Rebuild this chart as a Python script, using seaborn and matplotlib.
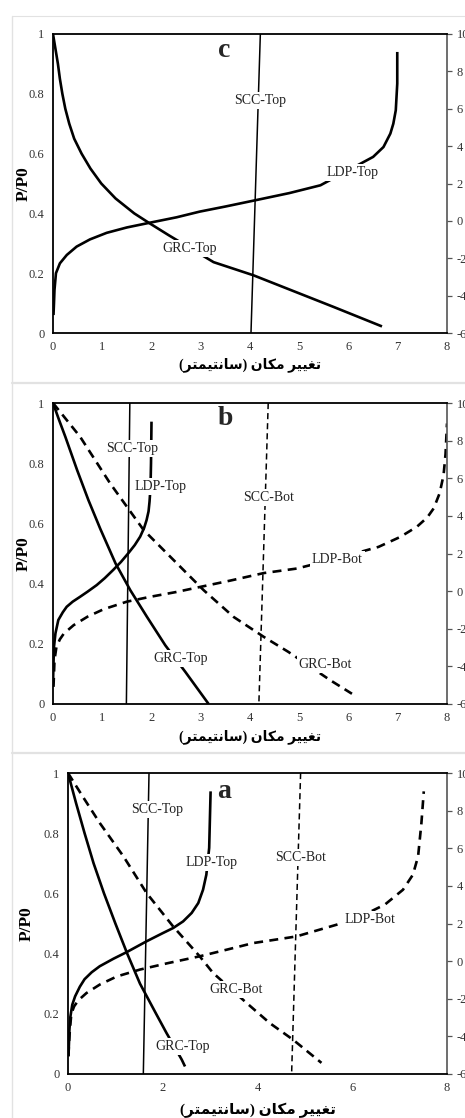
import matplotlib
matplotlib.use("Agg")
import matplotlib.pyplot as plt
from matplotlib.lines import Line2D
import seaborn as sns

# ---------------- panel c ----------------
c_grc_top_x = [0.0, 0.05, 0.10, 0.14, 0.19, 0.25, 0.33, 0.43, 0.58, 0.76, 0.98, 1.27, 1.65, 1.97, 2.35,
               3.26, 4.07, 5.70, 6.68]
c_grc_top_y = [1.0, 0.95, 0.90, 0.85, 0.80, 0.75, 0.70, 0.65, 0.60, 0.55, 0.50, 0.45, 0.40, 0.366, 0.327,
               0.237, 0.193, 0.087, 0.022]
c_ldp_top_x = [0.01, 0.02, 0.03, 0.06, 0.14, 0.28, 0.48, 0.75, 1.09, 1.50, 1.97, 2.51, 2.98, 3.50, 4.11,
               4.80, 5.43, 6.50, 6.71, 6.85, 6.91, 6.96, 6.99, 6.99]
c_ldp_top_y = [0.06, 0.10, 0.144, 0.20, 0.233, 0.261, 0.289, 0.313, 0.335, 0.353, 0.369, 0.387, 0.406, 0.423, 0.444,
               0.468, 0.494, 0.589, 0.622, 0.667, 0.70, 0.745, 0.834, 0.94]
c_scc_top_x = [4.21, 4.02]
c_scc_top_y = [1.0, 0.0]

# ---------------- panel b ----------------
b_grc_top_x = [0.0, 0.12, 0.25, 0.49, 0.72, 0.96, 1.27, 1.57, 1.91, 2.28, 2.69, 3.16]
b_grc_top_y = [1.0, 0.945, 0.888, 0.777, 0.677, 0.582, 0.467, 0.378, 0.289, 0.195, 0.106, 0.0]
b_grc_bot_x = [0.0, 0.55, 1.16, 1.84, 2.45, 3.06, 3.67, 4.28, 4.78, 5.63, 6.07]
b_grc_bot_y = [1.0, 0.888, 0.733, 0.578, 0.478, 0.378, 0.289, 0.223, 0.173, 0.079, 0.034]
b_ldp_top_x = [0.0, 0.01, 0.02, 0.05, 0.108, 0.20, 0.278, 0.40, 0.548, 0.70, 0.887, 1.05, 1.22, 1.38, 1.53,
               1.66, 1.77, 1.85, 1.90, 1.94, 1.96, 1.98, 1.99, 2.0]
b_ldp_top_y = [0.068, 0.134, 0.19, 0.235, 0.279, 0.305, 0.323, 0.340, 0.356, 0.373, 0.395, 0.418, 0.445, 0.472, 0.501,
               0.528, 0.556, 0.585, 0.611, 0.64, 0.672, 0.72, 0.80, 0.938]
b_ldp_bot_x = [0.01, 0.02, 0.03, 0.07, 0.14, 0.22, 0.42, 0.70, 1.03, 1.50, 1.97, 2.50, 2.99, 3.60, 4.28, 4.95,
               5.80, 6.61, 7.05, 7.39, 7.60, 7.73, 7.85, 7.93, 7.97, 8.0]
b_ldp_bot_y = [0.057, 0.10, 0.146, 0.19, 0.215, 0.234, 0.262, 0.29, 0.315, 0.34, 0.356, 0.372, 0.389, 0.41, 0.435, 0.45,
               0.485, 0.522, 0.555, 0.589, 0.62, 0.65, 0.70, 0.76, 0.83, 0.932]
b_scc_top_x = [1.56, 1.49]
b_scc_top_y = [1.0, 0.0]
b_scc_bot_x = [4.37, 4.18]
b_scc_bot_y = [1.0, 0.0]

# ---------------- panel a ----------------
a_grc_top_x = [0.0, 0.17, 0.35, 0.54, 0.76, 1.0, 1.25, 1.52, 1.86, 2.08, 2.40, 2.47]
a_grc_top_y = [1.0, 0.90, 0.80, 0.70, 0.60, 0.50, 0.40, 0.30, 0.20, 0.136, 0.048, 0.025]
a_grc_bot_x = [0.0, 0.31, 0.67, 1.17, 1.66, 2.22, 2.78, 3.06, 3.77, 4.26, 4.75, 5.35]
a_grc_bot_y = [1.0, 0.922, 0.834, 0.723, 0.601, 0.49, 0.391, 0.336, 0.236, 0.169, 0.114, 0.037]
a_ldp_top_x = [0.01, 0.02, 0.03, 0.05, 0.09, 0.15, 0.25, 0.35, 0.50, 0.67, 0.96, 1.24, 1.66, 2.00, 2.22, 2.43,
               2.61, 2.75, 2.85, 2.92, 2.98, 3.01]
a_ldp_top_y = [0.059, 0.10, 0.147, 0.19, 0.23, 0.258, 0.29, 0.315, 0.338, 0.358, 0.383, 0.405, 0.441, 0.468, 0.485,
               0.507, 0.535, 0.568, 0.612, 0.662, 0.751, 0.939]
a_ldp_bot_x = [0.01, 0.02, 0.04, 0.07, 0.13, 0.22, 0.39, 0.67, 1.03, 1.52, 2.10, 2.78, 3.35, 3.91, 4.82, 5.67,
               6.20, 6.69, 7.07, 7.28, 7.39, 7.46, 7.51]
a_ldp_bot_y = [0.059, 0.10, 0.147, 0.20, 0.225, 0.245, 0.269, 0.297, 0.324, 0.347, 0.368, 0.391, 0.413, 0.435, 0.457,
               0.496, 0.525, 0.563, 0.612, 0.662, 0.723, 0.834, 0.939]
a_scc_top_x = [1.71, 1.59]
a_scc_top_y = [1.0, 0.0]
a_scc_bot_x = [4.91, 4.72]
a_scc_bot_y = [1.0, 0.0]

# axis tick values and labels
left_ticks = [0, 0.2, 0.4, 0.6, 0.8, 1.0]
left_tick_labels = ["0", "0.2", "0.4", "0.6", "0.8", "1"]
right_ticks = [-6, -4, -2, 0, 2, 4, 6, 8, 10]
right_tick_labels = ["-6", "-4", "-2", "0", "2", "4", "6", "8", "10"]
x_ticks_fine = [0, 1, 2, 3, 4, 5, 6, 7, 8]
x_ticks_coarse = [0, 2, 4, 6, 8]

# Persian axis title, written in presentation forms in visual order
x_title = ("(\uFEAE\uFE98\uFEE4\uFBFF\uFE98\uFEE7\uFE8E\uFEB3)"
           " \uFEE5\uFE8E\uFB91\uFEE3 \uFEAE\uFBFF\uFBFF\uFED0\uFE97")
y_title = "P/P0"

sns.set_style("white")
plt.rcParams["font.family"] = ["Liberation Serif", "DejaVu Sans"]

W, H = 465, 1118
fig = plt.figure(figsize=(W / 100, H / 100), dpi=100)
fig.patch.set_facecolor("white")


def frac_box(left, right, top, bottom):
    return [left / W, 1 - bottom / H, (right - left) / W, (bottom - top) / H]


ax_c = fig.add_axes(frac_box(53, 447, 34, 333))
ax_b = fig.add_axes(frac_box(53, 447, 403, 704))
ax_a = fig.add_axes(frac_box(68, 447, 773, 1074))

SOLID_LW = 1.9
THIN_LW = 1.1


def curve(ax, xs, ys, lw=SOLID_LW, dashes=None):
    sns.lineplot(x=xs, y=ys, sort=False, estimator=None, ax=ax,
                 color="black", linewidth=lw)
    line = ax.lines[-1]
    line.set_solid_capstyle("butt")
    line.set_solid_joinstyle("round")
    if dashes is not None:
        line.set_dashes(dashes)
        line.set_dash_capstyle("butt")


def tag(ax, x, y, s):
    ax.text(x, y, s, ha="center", va="center", fontsize=10, color="#222222",
            bbox=dict(facecolor="white", edgecolor="none", pad=1.5), zorder=6)


def style_axes(ax, xticks, ylab_x, xlab_y):
    ax.set_xlim(0, 8)
    ax.set_ylim(0, 1)
    ax.set_xticks(xticks)
    ax.set_xticklabels([str(t) for t in xticks])
    ax.set_yticks(left_ticks)
    ax.set_yticklabels(left_tick_labels)
    ax.tick_params(axis="both", length=0, labelsize=9, pad=6, colors="#333333")
    for side in ["left", "bottom", "top"]:
        ax.spines[side].set_color("black")
        ax.spines[side].set_linewidth(1.3)
    ax.spines["right"].set_color("#555555")
    ax.spines["right"].set_linewidth(1.2)
    ax.set_ylabel(y_title, fontsize=12.5, fontweight="bold", color="black")
    ax.yaxis.label.set_va("center")
    ax.yaxis.set_label_coords(ylab_x, 0.5)
    ax.set_xlabel(x_title, fontsize=10, fontweight="bold", color="black")
    ax.xaxis.label.set_va("center")
    ax.xaxis.set_label_coords(0.5, xlab_y)
    tw = ax.twinx()
    tw.set_ylim(-6, 10)
    tw.set_yticks(right_ticks)
    tw.set_yticklabels(right_tick_labels)
    tw.tick_params(axis="y", length=3.5, width=0.9, color="#555555",
                   labelsize=9, pad=3.5, labelcolor="#333333")
    for sp in tw.spines.values():
        sp.set_visible(False)
    tw.grid(False)
    ax.set_zorder(tw.get_zorder() + 1)
    ax.patch.set_visible(False)


GRC_DASH = (3.4, 2.2)
LDP_DASH = (3.4, 2.4)
SCC_DASH = (4.0, 2.6)

# panel c
curve(ax_c, c_grc_top_x, c_grc_top_y)
curve(ax_c, c_ldp_top_x, c_ldp_top_y)
curve(ax_c, c_scc_top_x, c_scc_top_y, lw=THIN_LW)
tag(ax_c, 4.20, 0.777, "SCC-Top")
tag(ax_c, 6.09, 0.538, "LDP-Top")
tag(ax_c, 2.77, 0.282, "GRC-Top")
ax_c.text(3.47, 0.945, "c", ha="center", va="center", fontsize=20, fontweight="bold")
style_axes(ax_c, x_ticks_fine, -0.074, -0.107)

# panel b
curve(ax_b, b_grc_top_x, b_grc_top_y)
curve(ax_b, b_grc_bot_x, b_grc_bot_y, dashes=GRC_DASH)
curve(ax_b, b_ldp_top_x, b_ldp_top_y)
curve(ax_b, b_ldp_bot_x, b_ldp_bot_y, dashes=LDP_DASH)
curve(ax_b, b_scc_top_x, b_scc_top_y, lw=THIN_LW)
curve(ax_b, b_scc_bot_x, b_scc_bot_y, lw=THIN_LW, dashes=SCC_DASH)
tag(ax_b, 1.60, 0.849, "SCC-Top")
tag(ax_b, 2.19, 0.722, "LDP-Top")
tag(ax_b, 4.37, 0.686, "SCC-Bot")
tag(ax_b, 5.77, 0.481, "LDP-Bot")
tag(ax_b, 2.59, 0.151, "GRC-Top")
tag(ax_b, 5.53, 0.132, "GRC-Bot")
ax_b.text(3.50, 0.95, "b", ha="center", va="center", fontsize=20, fontweight="bold")
style_axes(ax_b, x_ticks_fine, -0.074, -0.110)

# panel a
curve(ax_a, a_grc_top_x, a_grc_top_y)
curve(ax_a, a_grc_bot_x, a_grc_bot_y, dashes=GRC_DASH)
curve(ax_a, a_ldp_top_x, a_ldp_top_y)
curve(ax_a, a_ldp_bot_x, a_ldp_bot_y, dashes=LDP_DASH)
curve(ax_a, a_scc_top_x, a_scc_top_y, lw=THIN_LW)
curve(ax_a, a_scc_bot_x, a_scc_bot_y, lw=THIN_LW, dashes=SCC_DASH)
tag(ax_a, 1.89, 0.880, "SCC-Top")
tag(ax_a, 3.03, 0.703, "LDP-Top")
tag(ax_a, 4.91, 0.718, "SCC-Bot")
tag(ax_a, 6.38, 0.513, "LDP-Bot")
tag(ax_a, 3.54, 0.280, "GRC-Bot")
tag(ax_a, 2.42, 0.090, "GRC-Top")
ax_a.text(3.29, 0.937, "a", ha="center", va="center", fontsize=20, fontweight="bold")
style_axes(ax_a, x_ticks_coarse, -0.108, -0.120)
ax_a.xaxis.label.set_fontsize(11)

# light page frame around the three panels
frame_kw = dict(transform=fig.transFigure, color="#e2e2e2", zorder=0)
fig.add_artist(Line2D([12 / W, 12 / W], [0, 1 - 16 / H], linewidth=1.0, **frame_kw))
fig.add_artist(Line2D([12 / W, 1], [1 - 16 / H, 1 - 16 / H], linewidth=0.8, **frame_kw))
for yy in (383, 753):
    fig.add_artist(Line2D([12 / W, 1], [1 - yy / H, 1 - yy / H], linewidth=1.6, **frame_kw))

fig.savefig("out.png", dpi=100, facecolor="white")
